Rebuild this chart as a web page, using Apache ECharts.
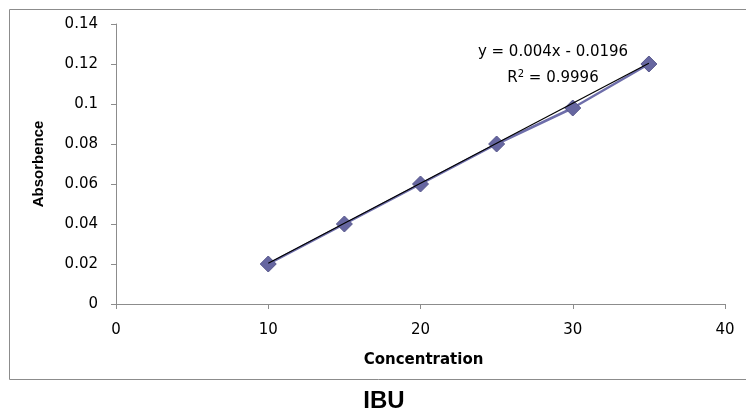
<!DOCTYPE html>
<html>
<head>
<meta charset="utf-8">
<script src="https://cdn.jsdelivr.net/npm/echarts@6/dist/echarts.min.js"></script>
<style>
  html, body { margin: 0; padding: 0; background: #fff; }
  #chart { width: 746px; height: 415px; }
</style>
</head>
<body>
<div id="chart"></div>
<script>
const concentration = [10, 15, 20, 25, 30, 35]
const absorbence = [0.02, 0.04, 0.06, 0.08, 0.098, 0.12]
// linear trendline shown on the chart: y = 0.004x - 0.0196
const slope = 0.004
const intercept = -0.0196
const trendX = [10, 35]

const chart = echarts.init(document.getElementById('chart'))

const tickFont = { fontFamily: 'DejaVu Sans', fontSize: 15, color: '#000' }
const axisGray = '#8c8c8c'

chart.setOption({
  animation: false,
  grid: { left: 116, right: 21, top: 24, bottom: 111 },
  xAxis: {
    type: 'value',
    min: 0,
    max: 40,
    interval: 10,
    name: 'Concentration',
    nameLocation: 'middle',
    nameGap: 49,
    nameTextStyle: { fontFamily: 'DejaVu Sans', fontWeight: 'bold', fontSize: 15, color: '#000', padding: [0, 0, 0, 6] },
    axisLine: { lineStyle: { color: axisGray } },
    axisTick: { show: true, length: 5, lineStyle: { color: axisGray } },
    axisLabel: { ...tickFont, margin: 19 },
    splitLine: { show: false }
  },
  yAxis: {
    type: 'value',
    min: 0,
    max: 0.14,
    interval: 0.02,
    name: 'Absorbence',
    nameLocation: 'middle',
    nameGap: 70,
    nameTextStyle: { fontFamily: 'Liberation Sans', fontWeight: 'bold', fontSize: 15, color: '#000' },
    axisLine: { show: true, lineStyle: { color: axisGray } },
    axisTick: { show: true, length: 5, lineStyle: { color: axisGray } },
    axisLabel: { ...tickFont, margin: 18 },
    splitLine: { show: false }
  },
  series: [
    {
      name: 'Absorbence',
      type: 'line',
      data: concentration.map((x, i) => [x, absorbence[i]]),
      symbol: 'diamond',
      symbolSize: 16,
      itemStyle: { color: '#6666a0', borderColor: '#55558a', borderWidth: 1 },
      lineStyle: { color: '#6e6eaa', width: 2.5 },
      z: 2
    },
    {
      name: 'Trend',
      type: 'line',
      data: trendX.map((x) => [x, slope * x + intercept]),
      symbol: 'none',
      lineStyle: { color: '#000', width: 1.2 },
      z: 3
    }
  ],
  graphic: [
    {
      type: 'rect',
      shape: { x: 9.5, y: 9.5, width: 745, height: 370 },
      style: { fill: 'none', stroke: '#8c8c8c', lineWidth: 1 },
      silent: true
    },
    {
      type: 'text',
      x: 553,
      y: 60,
      style: {
        text: 'y = 0.004x - 0.0196',
        fontFamily: 'DejaVu Sans',
        fontSize: 15,
        fill: '#000',
        align: 'center',
        verticalAlign: 'bottom'
      }
    },
    {
      type: 'text',
      x: 553,
      y: 88,
      style: {
        text: 'R{sup|2} = 0.9996',
        fontFamily: 'DejaVu Sans',
        fontSize: 15,
        fill: '#000',
        align: 'center',
        verticalAlign: 'bottom',
        rich: { sup: { fontSize: 10, fontFamily: 'DejaVu Sans', padding: [0, 0, 9, 0] } }
      }
    },
    {
      type: 'text',
      x: 384,
      y: 401,
      style: {
        text: 'IBU',
        fontFamily: 'Liberation Sans',
        fontWeight: 'bold',
        fontSize: 24,
        fill: '#000',
        align: 'center',
        verticalAlign: 'middle'
      }
    }
  ]
})
</script>
</body>
</html>
